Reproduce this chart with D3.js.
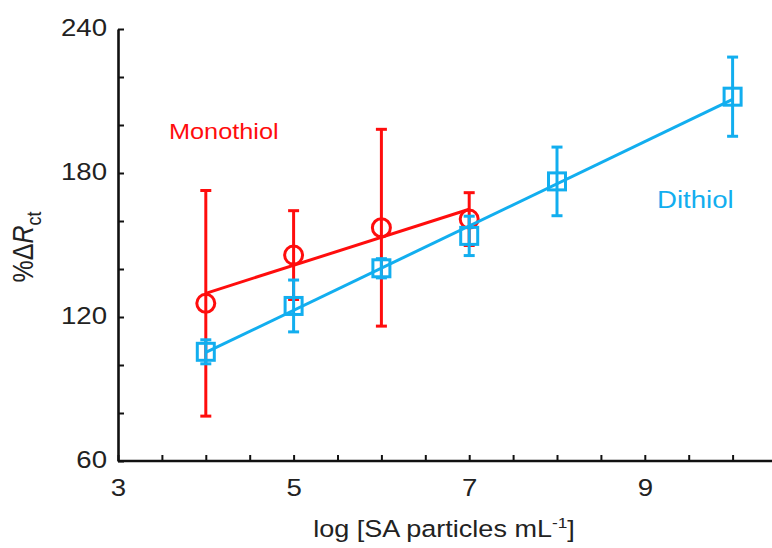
<!DOCTYPE html>
<html>
<head>
<meta charset="utf-8">
<script src="https://cdn.jsdelivr.net/npm/d3@7"></script>
<style>
  body { margin: 0; background: #fff; }
  svg { display: block; font-family: "Liberation Sans", Arial, sans-serif; }
</style>
</head>
<body>
<div id="chart-area"><svg></svg></div>
<script>
// Chart data
const concLog = [4, 5, 6, 7];                 // monothiol x
const monoVals = [125.7, 145.8, 157.2, 160.8];
const monoErr = [47, 18.5, 41, 11];

const dithConc = [4, 5, 6, 7, 8, 10];         // dithiol x
const dithVals = [105.5, 124.6, 140.3, 153.8, 176.5, 211.8];
const dithErr = [5, 10.8, 4, 8.2, 14.3, 16.5];

const xTickLabels = [3, 5, 7, 9];
const yTickLabels = [60, 120, 180, 240];

const width = 772, height = 548;
const svg = d3.select("#chart-area").select("svg")
    .attr("width", width).attr("height", height);

const red = "#ff0d0d";
const blue = "#12aeef";
const sx = 1.15; // the figure's text is a bit stretched sideways

// Scales
const x = d3.scaleLinear().domain([3, 10.5]).range([118, 118 + 7.5 * 87.8]);
const y = d3.scaleLinear().domain([60, 240]).range([461, 29]);

// ****************** axes ***************************
const xAxis = d3.axisBottom(x)
    .tickValues(d3.range(3, 10.01, 0.5))
    .tickSizeInner(-6).tickSizeOuter(0)
    .tickFormat(d => xTickLabels.includes(d) ? d : "");
const gx = svg.append("g")
    .attr("transform", `translate(0,${y(60)})`)
    .call(xAxis);
gx.select(".domain").attr("d", `M${x(3)},0H${width}`);
gx.selectAll("text")
    .attr("y", 18).attr("dy", "0.71em")
    .attr("font-size", 24).attr("fill", "#222")
    .attr("transform", `scale(${sx},1)`);

const yAxis = d3.axisLeft(y)
    .tickValues(d3.range(60, 240.1, 20))
    .tickSizeInner(-6).tickSizeOuter(0)
    .tickFormat(d => yTickLabels.includes(d) ? d : "");
const gy = svg.append("g")
    .attr("transform", `translate(${x(3)},0)`)
    .call(yAxis);
gy.selectAll("text")
    .attr("x", -11 / sx).attr("dy", "0.28em")
    .attr("font-size", 24).attr("fill", "#222")
    .attr("transform", `scale(${sx},1)`);

[gx, gy].forEach(g => {
    g.select(".domain").attr("stroke", "#111").attr("stroke-width", 2.6);
    g.selectAll(".tick line").attr("stroke", "#111").attr("stroke-width", 2);
});

// Axis titles
svg.append("text")
    .attr("transform", `translate(444,537) scale(${sx},1)`)
    .attr("text-anchor", "middle")
    .attr("font-size", 23.5).attr("fill", "#222")
    .call(t => {
        t.append("tspan").text("log [SA particles mL");
        t.append("tspan").attr("font-size", 15).attr("dy", -9).text("-1");
        t.append("tspan").attr("dy", 9).text("]");
    });

svg.append("text")
    .attr("transform", `translate(33,247) scale(${sx},1) rotate(-90)`)
    .attr("text-anchor", "middle")
    .attr("font-size", 25).attr("fill", "#222")
    .call(t => {
        t.append("tspan").text("%Δ");
        t.append("tspan").attr("font-style", "italic").text("R");
        t.append("tspan").attr("font-size", 18).attr("dy", 7).text("ct");
    });

// ****************** series ***************************
function fitLine(xs, ys) {
    const mx = d3.mean(xs), my = d3.mean(ys);
    const b = d3.sum(xs, (v, i) => (v - mx) * (ys[i] - my)) / d3.sum(xs, v => (v - mx) ** 2);
    const a = my - b * mx;
    const x0 = d3.min(xs), x1 = d3.max(xs);
    return [[x0, a + b * x0], [x1, a + b * x1]];
}

function drawSeries(xs, ys, es, color, shape) {
    const g = svg.append("g");
    const pts = xs.map((v, i) => ({ x: v, y: ys[i], e: es[i] }));

    g.append("path")
        .attr("d", d3.line().x(d => x(d[0])).y(d => y(d[1]))(fitLine(xs, ys)))
        .attr("stroke", color).attr("stroke-width", 3).attr("fill", "none");

    const eb = g.selectAll(".err").data(pts).enter().append("g")
        .attr("stroke", color).attr("stroke-width", 3);
    eb.append("line")
        .attr("x1", d => x(d.x)).attr("x2", d => x(d.x))
        .attr("y1", d => y(d.y + d.e)).attr("y2", d => y(d.y - d.e));
    [1, -1].forEach(s => {
        eb.append("line")
            .attr("x1", d => x(d.x) - 5.5).attr("x2", d => x(d.x) + 5.5)
            .attr("y1", d => y(d.y + s * d.e)).attr("y2", d => y(d.y + s * d.e));
    });

    if (shape === "circle") {
        g.selectAll("circle").data(pts).enter().append("circle")
            .attr("cx", d => x(d.x)).attr("cy", d => y(d.y)).attr("r", 9)
            .attr("fill", "none").attr("stroke", color).attr("stroke-width", 3);
    } else {
        g.selectAll("rect").data(pts).enter().append("rect")
            .attr("x", d => x(d.x) - 8.5).attr("y", d => y(d.y) - 8.5)
            .attr("width", 17).attr("height", 17)
            .attr("fill", "none").attr("stroke", color).attr("stroke-width", 3);
    }
}

drawSeries(concLog, monoVals, monoErr, red, "circle");
drawSeries(dithConc, dithVals, dithErr, blue, "square");

// Series labels
svg.append("text")
    .attr("transform", `translate(169,139) scale(${sx},1)`)
    .attr("font-size", 22).attr("fill", red).text("Monothiol");
svg.append("text")
    .attr("transform", `translate(657,208) scale(${sx},1)`)
    .attr("font-size", 24).attr("fill", blue).text("Dithiol");
</script>
</body>
</html>
